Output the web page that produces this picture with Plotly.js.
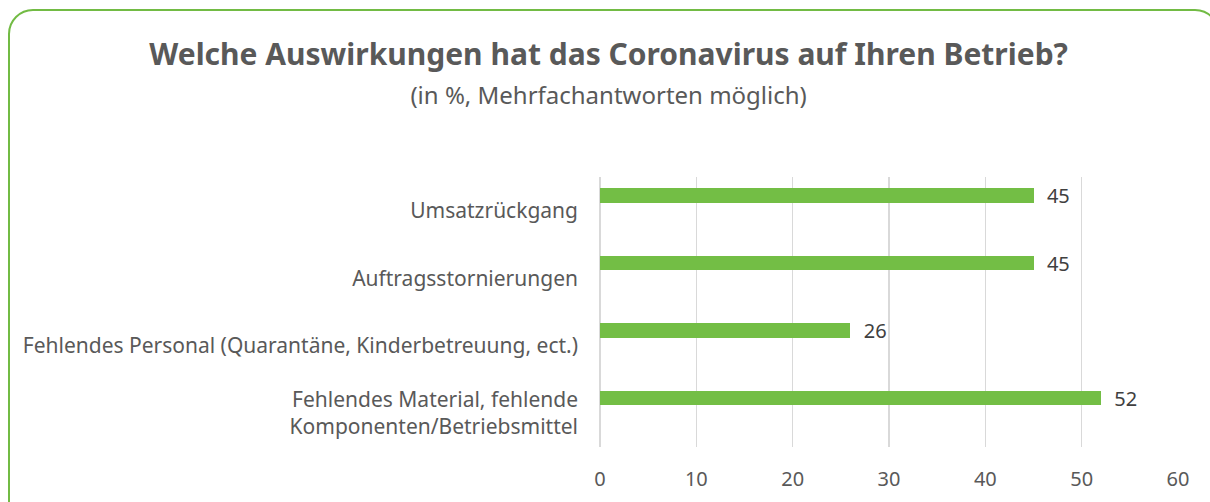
<!DOCTYPE html>
<html>
<head>
<meta charset="utf-8">
<script src="https://cdn.plot.ly/plotly-3.0.1.min.js"></script>
<style>
html,body{margin:0;padding:0;width:1210px;height:502px;overflow:hidden;background:#fff;}
#chart{position:absolute;left:0;top:0;width:1210px;height:502px;}
#frame{position:absolute;left:8px;top:9px;width:1208px;height:520px;border:2px solid #72bb44;border-radius:25px;pointer-events:none;}
</style>
</head>
<body>
<div id="chart"></div>
<div id="frame"></div>
<script>
const categories = [
  "Umsatzrückgang",
  "Auftragsstornierungen",
  "Fehlendes Personal (Quarantäne, Kinderbetreuung, ect.)",
  "Fehlendes Material, fehlende<br>Komponenten/Betriebsmittel"
];
const values = [45, 45, 26, 52];
const xTicks = [0, 10, 20, 30, 40, 50, 60];

const font = "Noto Sans, Open Sans, sans-serif";

const trace = {
  type: "bar",
  orientation: "h",
  x: values,
  y: categories,
  width: 0.21,
  offset: -0.33,
  marker: {color: "#73be45"},
  text: values.map(v => "\u00a0\u00a0" + v),
  textposition: "outside",
  constraintext: "none",
  cliponaxis: false,
  textfont: {family: font, size: 20, color: "#404040"},
  hoverinfo: "skip"
};

const layout = {
  width: 1210,
  height: 502,
  paper_bgcolor: "rgba(0,0,0,0)",
  plot_bgcolor: "rgba(0,0,0,0)",
  margin: {l: 600, r: 32, t: 177, b: 55},
  showlegend: false,
  title: {
    text: "<b>Welche Auswirkungen hat das Coronavirus auf Ihren Betrieb?</b><br><span style='font-size:24px;font-weight:normal'>(in %, Mehrfachantworten möglich)</span>",
    font: {family: font, size: 30, color: "#595959"},
    x: 0.503,
    xanchor: "center",
    yref: "container",
    y: 0.87,
    yanchor: "top"
  },
  xaxis: {
    range: [0, 60],
    tickvals: xTicks,
    ticktext: xTicks.map(String),
    showgrid: true,
    gridcolor: "#d9d9d9",
    gridwidth: 1.5,
    zeroline: true,
    zerolinecolor: "#d9d9d9",
    zerolinewidth: 1.5,
    showline: false,
    ticks: "",
    tickfont: {family: font, size: 20, color: "#595959"},
    ticklabelstandoff: 18
  },
  yaxis: {
    autorange: "reversed",
    type: "category",
    showgrid: false,
    zeroline: false,
    showline: false,
    ticks: "",
    ticklabelstandoff: 21,
    tickfont: {family: font, size: 21, color: "#595959"}
  },
  bargap: 0
};

Plotly.newPlot("chart", [trace], layout, {staticPlot: true, displayModeBar: false});
</script>
</body>
</html>
